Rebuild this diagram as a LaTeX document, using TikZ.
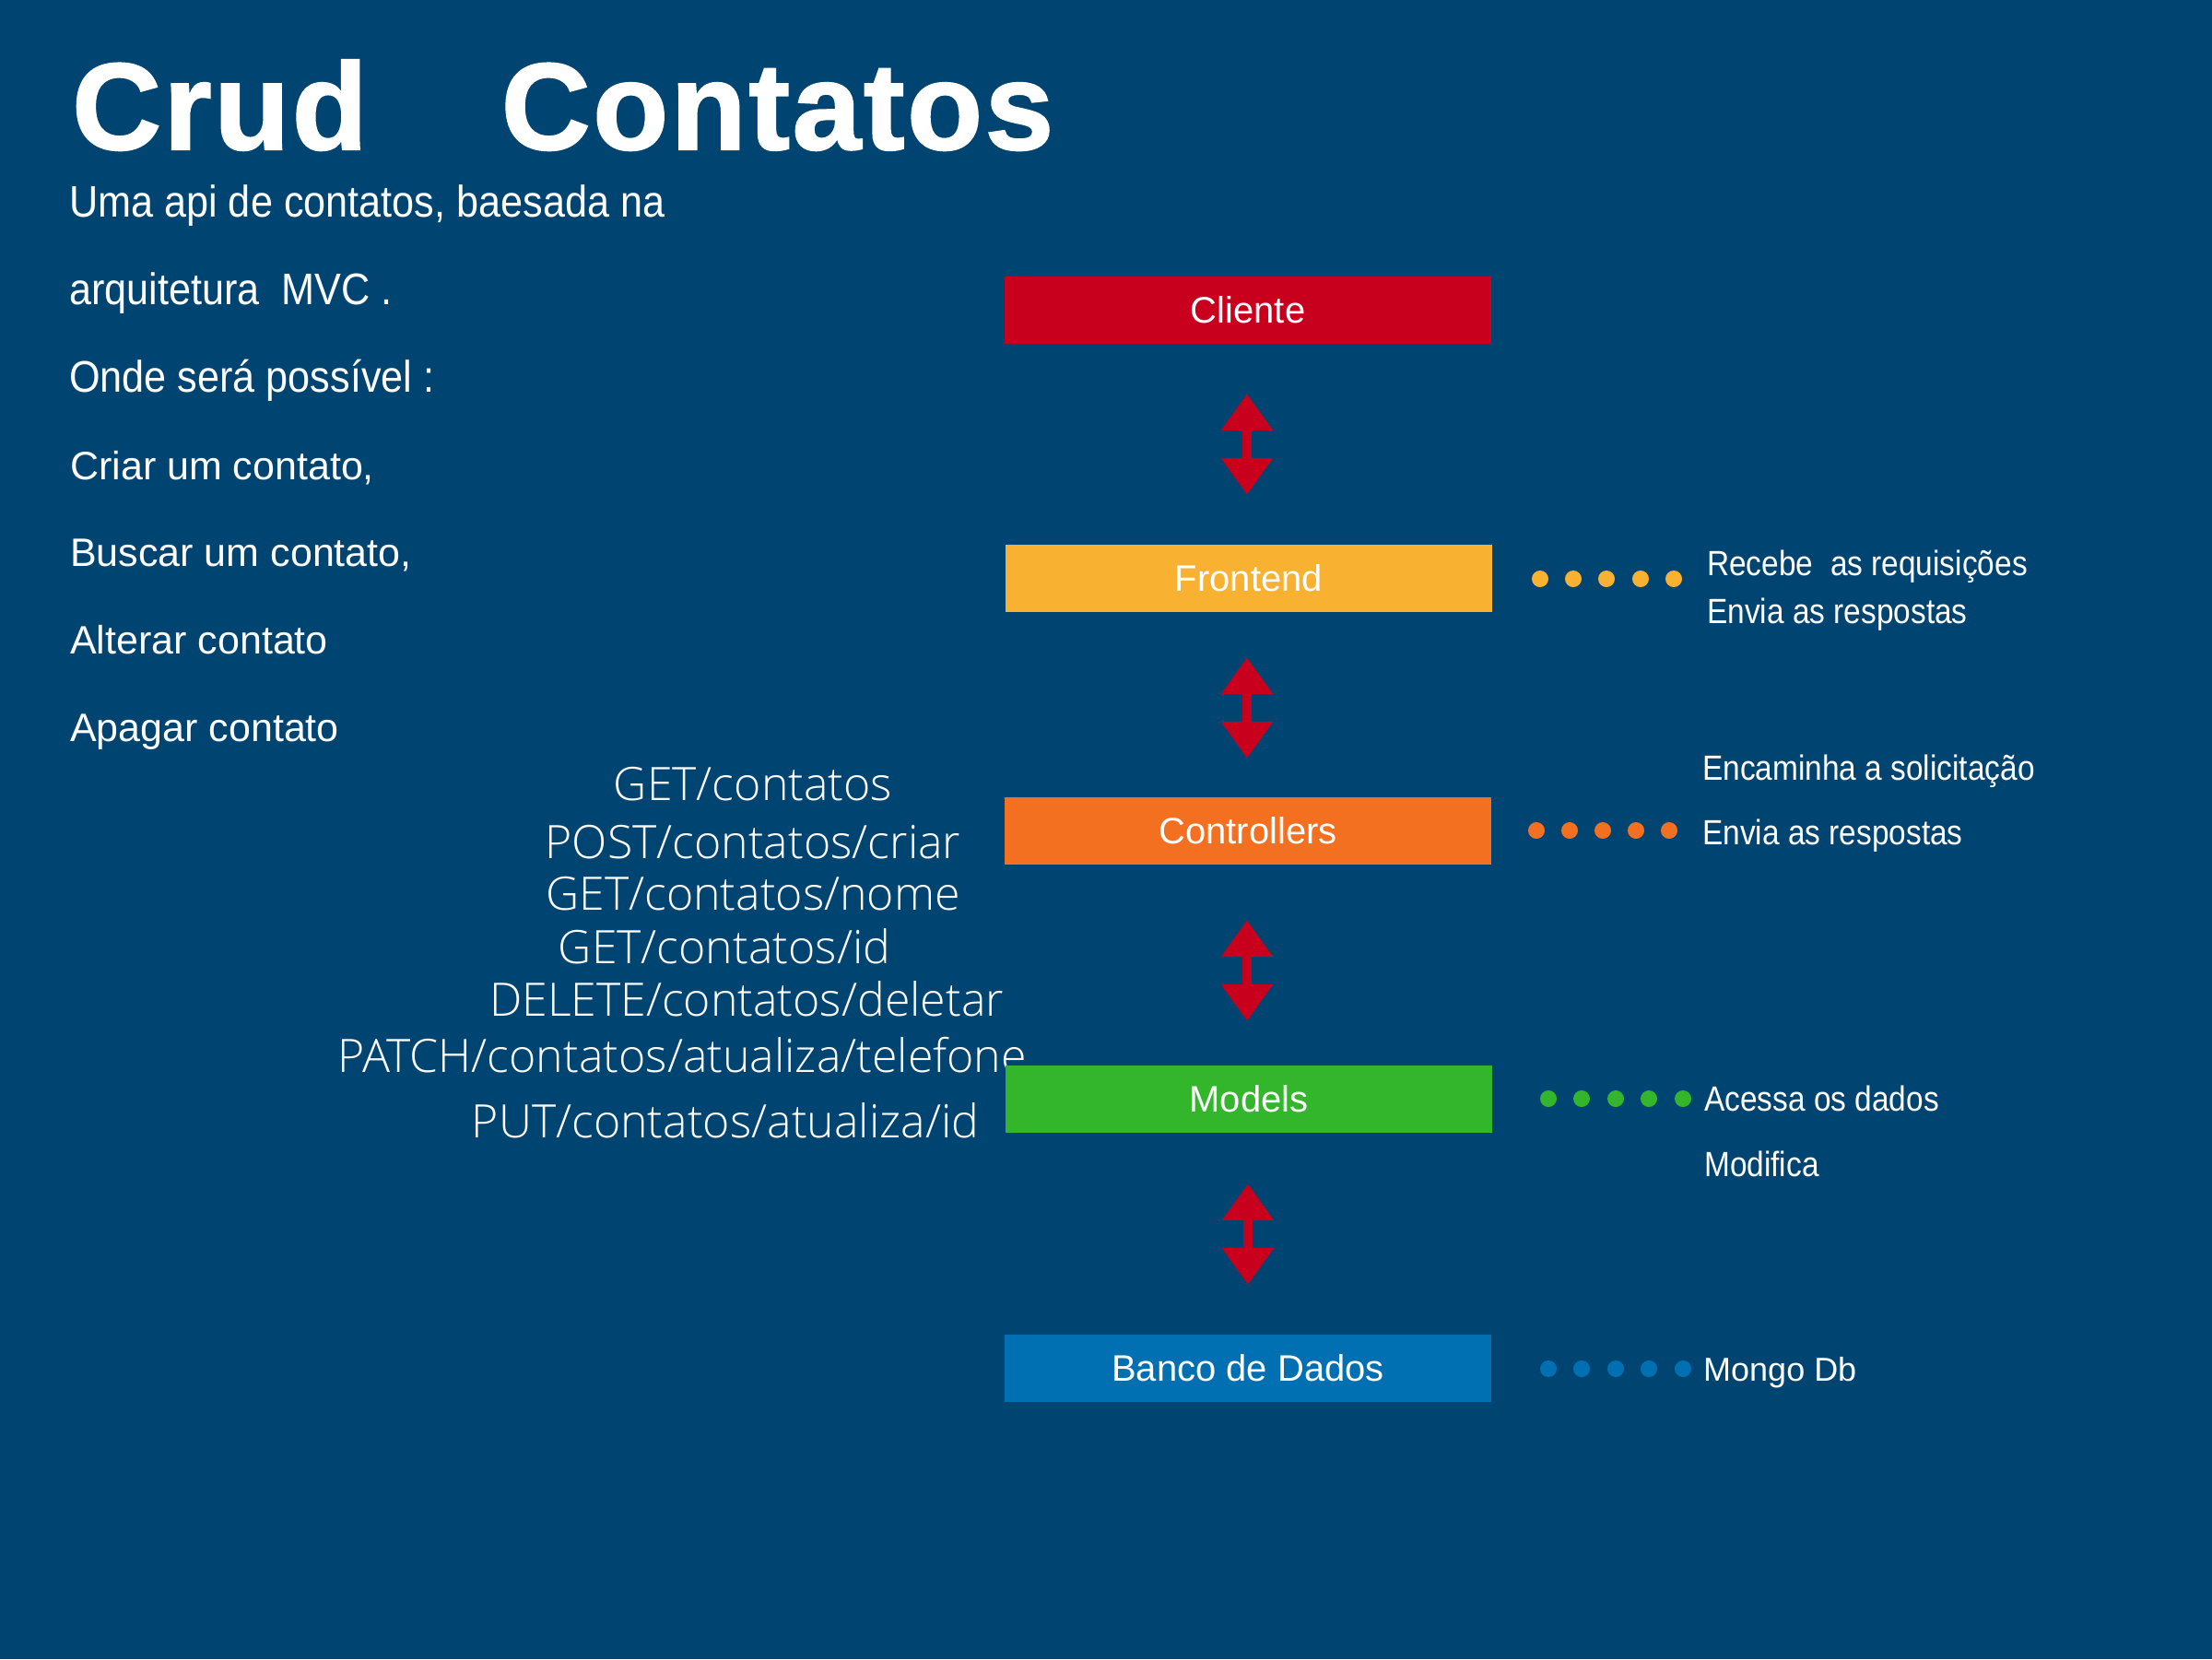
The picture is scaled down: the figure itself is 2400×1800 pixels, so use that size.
\documentclass[tikz,border=0pt]{standalone}
\usepackage{fontspec}
\setmainfont{Liberation Sans}
\newfontfamily\condfont[FakeStretch=0.9]{Liberation Sans}
\newfontfamily\rcond[FakeStretch=0.88]{Liberation Sans}
\newfontfamily\titlefont[FakeBold=1.5,LetterSpace=2]{Liberation Sans Bold}
\newfontfamily\epfont{Open Sans}[UprightFont={* Light}]
\usetikzlibrary{arrows.meta}
\definecolor{bgblue}{RGB}{0,69,114}
\definecolor{cred}{RGB}{200,0,30}
\definecolor{cyel}{RGB}{249,177,49}
\definecolor{cora}{RGB}{243,112,33}
\definecolor{cgrn}{RGB}{51,181,44}
\definecolor{cblu}{RGB}{0,112,179}
\tikzset{
  layer/.style={minimum width=528pt, minimum height=73pt, inner sep=0pt, text=white,
    font=\fontsize{40}{46}\selectfont},
  txt/.style={inner sep=0pt, text=white, anchor=base west},
  ep/.style={inner sep=0pt, text=white, anchor=base, font=\epfont\fontsize{50}{58}\selectfont},
  rtxt/.style={txt, font=\rcond\fontsize{38}{44}\selectfont},
  ltxt/.style={txt, font=\fontsize{43}{50}\selectfont},
  lctxt/.style={txt, font=\condfont\fontsize{48}{56}\selectfont},
  dbl/.style={draw=cred, line width=10pt,
    {Triangle[width=54pt,length=40pt]}-{Triangle[width=54pt,length=40pt]}},
}
\begin{document}
\begin{tikzpicture}[x=1pt,y=-1pt]
\fill[bgblue] (0,0) rectangle (2400,1800);
\useasboundingbox (0,0) rectangle (2400,1800);

% title
\node[txt, font=\titlefont\fontsize{134}{140}\selectfont] (title) at (78,162) {Crud\hspace{145pt}Contatos};

% left description
\node[lctxt] (l1) at (75,235) {Uma api de contatos, baesada na};
\node[lctxt] (l2) at (75,330) {arquitetura\ \ MVC .};
\node[lctxt] (l3) at (75,425) {Onde será possível :};
\node[ltxt] (l4) at (76,520) {Criar um contato,};
\node[ltxt] (l5) at (76,614) {Buscar um contato,};
\node[ltxt] (l6) at (76,709) {Alterar contato};
\node[ltxt] (l7) at (76,804) {Apagar contato};

% endpoints
\node[ep] (e1) at (817,868) {GET/contatos};
\node[ep] (e2) at (817,931) {POST/contatos/criar};
\node[ep] (e3) at (817,987) {GET/contatos/nome};
\node[ep] (e4) at (786,1045) {GET/contatos/id};
\node[ep] (e5) at (810,1102) {DELETE/contatos/deletar};
\node[ep] (e6) at (740,1163) {PATCH/contatos/atualiza/telefone};
\node[ep] (e7) at (787,1234) {PUT/contatos/atualiza/id};

% layers
\node[layer, fill=cred] (cli) at (1354,336.5) {Cliente};
\node[layer, fill=cyel] (fro) at (1355,627.5) {Frontend};
\node[layer, fill=cora] (ctl) at (1354,901.5) {Controllers};
\node[layer, fill=cgrn] (mod) at (1355,1192.5) {Models};
\node[layer, fill=cblu] (ban) at (1354,1484.5) {Banco de Dados};

% arrows
\draw[dbl, shorten <=54pt, shorten >=54pt] ([xshift=-1pt]cli.south) -- ([xshift=-2pt]fro.north);
\draw[dbl, shorten <=49pt, shorten >=42pt] ([xshift=-2pt]fro.south) -- ([xshift=-1pt]ctl.north);
\draw[dbl, shorten <=60pt, shorten >=48pt] ([xshift=-1pt]ctl.south) -- ([xshift=-2pt]mod.north);
\draw[dbl, shorten <=55pt, shorten >=54pt] ([xshift=-1pt]mod.south) -- ([xshift=0pt]ban.north);

% dots
\foreach \x in {1671,1707,1743,1780,1816} \fill[cyel] (\x,628) circle[radius=9pt];
\foreach \x in {1667,1703,1739,1775,1811} \fill[cora] (\x,901) circle[radius=9pt];
\foreach \x in {1680,1716,1753,1789,1826} \fill[cgrn] (\x,1192) circle[radius=9pt];
\foreach \x in {1680,1716,1753,1789,1826} \fill[cblu] (\x,1485) circle[radius=9pt];

% right descriptions
\node[rtxt] (r1) at (1852,624) {Recebe\ \ as requisições};
\node[rtxt] (r2) at (1852,676) {Envia as respostas};
\node[rtxt] (r3) at (1847,846) {Encaminha a solicitação};
\node[rtxt] (r4) at (1847,916) {Envia as respostas};
\node[rtxt] (r5) at (1849,1205) {Acessa os dados};
\node[rtxt] (r6) at (1849,1276) {Modifica};
\node[txt, font=\fontsize{36}{42}\selectfont] (r7) at (1848,1498) {Mongo Db};
\end{tikzpicture}
\end{document}
